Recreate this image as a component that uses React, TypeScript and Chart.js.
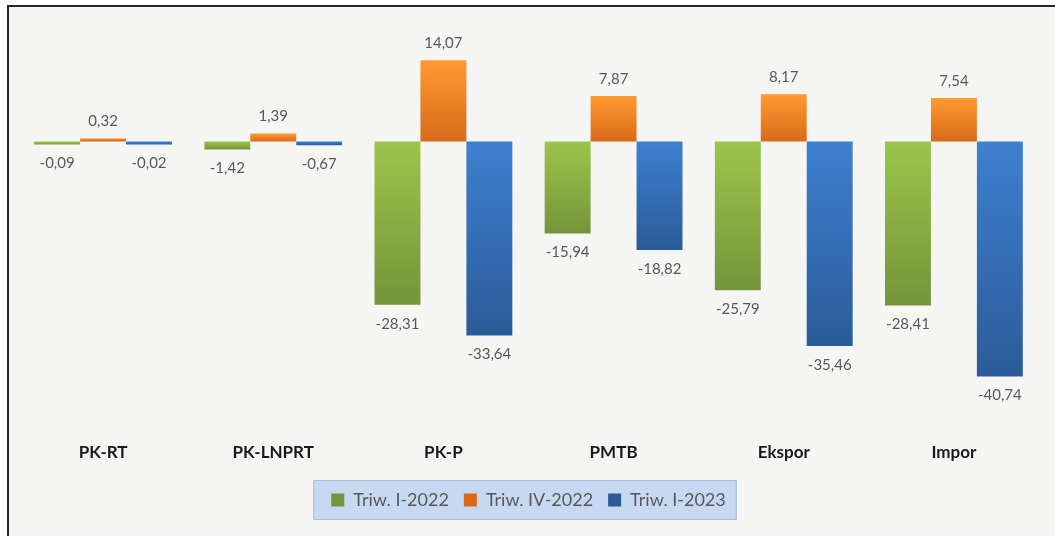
import React, { useEffect, useRef } from "react";
import { Chart, registerables } from "chart.js";

Chart.register(...registerables);

const categories = ["PK-RT", "PK-LNPRT", "PK-P", "PMTB", "Ekspor", "Impor"];
const seriesNames = ["Triw. I-2022", "Triw. IV-2022", "Triw. I-2023"];
const triwI2022 = [-0.09, -1.42, -28.31, -15.94, -25.79, -28.41];
const triwIV2022 = [0.32, 1.39, 14.07, 7.87, 8.17, 7.54];
const triwI2023 = [-0.02, -0.67, -33.64, -18.82, -35.46, -40.74];
const yMin = -50;
const yMax = 20;

function barGradient(light: string, dark: string, solid: string) {
  return (ctx: any) => {
    const chart = ctx.chart;
    const y = chart.scales && chart.scales.y;
    if (ctx.type !== "data" || !y || !chart.chartArea) return solid;
    const v = ctx.raw as number;
    const p0 = y.getPixelForValue(0);
    const p1 = y.getPixelForValue(v);
    let top = Math.min(p0, p1);
    let bot = Math.max(p0, p1);
    if (bot - top < 4) {
      if (v >= 0) top = bot - 4;
      else bot = top + 4;
    }
    const g = chart.ctx.createLinearGradient(0, top, 0, bot);
    g.addColorStop(0, light);
    g.addColorStop(1, dark);
    return g;
  };
}

const valueLabels = {
  id: "valueLabels",
  afterDatasetsDraw(chart: any) {
    const ctx = chart.ctx;
    ctx.save();
    ctx.font = "15px Lato";
    ctx.fillStyle = "#595959";
    ctx.textAlign = "center";
    ctx.textBaseline = "middle";
    chart.data.datasets.forEach((ds: any, di: number) => {
      const meta = chart.getDatasetMeta(di);
      meta.data.forEach((el: any, i: number) => {
        const v = ds.data[i] as number;
        const text = v.toFixed(2).replace(".", ",");
        const endY = v >= 0 ? Math.min(el.y, el.base) : Math.max(el.y, el.base);
        const ty = v >= 0 ? endY - 17 : endY + 19;
        ctx.fillText(text, el.x, ty);
      });
    });
    ctx.restore();
  },
};

const legendBox = {
  id: "legendBox",
  beforeDraw(chart: any) {
    const lg = chart.legend;
    if (!lg || !lg.legendHitBoxes || !lg.legendHitBoxes.length) return;
    const hb = lg.legendHitBoxes;
    const left = Math.min(...hb.map((h: any) => h.left)) - 18;
    const right = Math.max(...hb.map((h: any) => h.left + h.width)) + 11;
    const cy = hb[0].top + hb[0].height / 2;
    const ctx = chart.ctx;
    ctx.save();
    ctx.fillStyle = "#c6d9f1";
    ctx.fillRect(left, cy - 20, right - left, 40);
    ctx.strokeStyle = "#a8bcd8";
    ctx.lineWidth = 1;
    ctx.strokeRect(left + 0.5, cy - 19.5, right - left - 1, 39);
    ctx.restore();
  },
};

export default function App() {
  const ref = useRef<HTMLCanvasElement | null>(null);

  useEffect(() => {
    if (!ref.current) return;
    const chart = new Chart(ref.current, {
      type: "bar",
      data: {
        labels: categories,
        datasets: [
          {
            label: seriesNames[0],
            data: triwI2022,
            backgroundColor: barGradient("#9cc54b", "#76943a", "#8ab443"),
          },
          {
            label: seriesNames[1],
            data: triwIV2022,
            backgroundColor: barGradient("#ff9a30", "#d86a1a", "#f28a2a"),
          },
          {
            label: seriesNames[2],
            data: triwI2023,
            backgroundColor: barGradient("#3e80d0", "#2b5b98", "#3670ba"),
          },
        ],
      },
      options: {
        responsive: false,
        animation: false,
        layout: { padding: { left: 18, right: 16, top: 26, bottom: 17 } },
        datasets: {
          bar: { categoryPercentage: 0.81, barPercentage: 1, minBarLength: 3, borderWidth: 0 },
        },
        scales: {
          x: {
            grid: { display: false, drawTicks: false },
            border: { display: false },
            ticks: {
              padding: 12,
              color: "#1a1a1a",
              maxRotation: 0,
              autoSkip: false,
              font: { family: "Lato", size: 17, weight: "bold" },
            },
            afterFit: (s: any) => {
              s.height = 46;
            },
          },
          y: { display: false, min: yMin, max: yMax },
        },
        plugins: {
          legend: {
            position: "bottom",
            labels: {
              boxWidth: 13,
              boxHeight: 13,
              padding: 15,
              color: "#595959",
              font: { family: "Lato", size: 18 },
            },
          },
          tooltip: { enabled: false },
        },
      } as any,
      plugins: [valueLabels, legendBox],
    });
    return () => chart.destroy();
  }, []);

  return (
    <div
      style={{
        position: "fixed",
        left: 0,
        top: 0,
        width: 1055,
        height: 536,
        background: "#ffffff",
        overflow: "hidden",
      }}
    >
      <div
        style={{
          position: "absolute",
          left: 7,
          top: 5,
          width: 1060,
          height: 540,
          borderLeft: "2px solid #262626",
          borderTop: "2px solid #262626",
          background: "#f5f6f4",
        }}
      />
      <canvas
        ref={ref}
        width={1055}
        height={536}
        style={{ position: "absolute", left: 0, top: 0, width: 1055, height: 536 }}
      />
    </div>
  );
}
